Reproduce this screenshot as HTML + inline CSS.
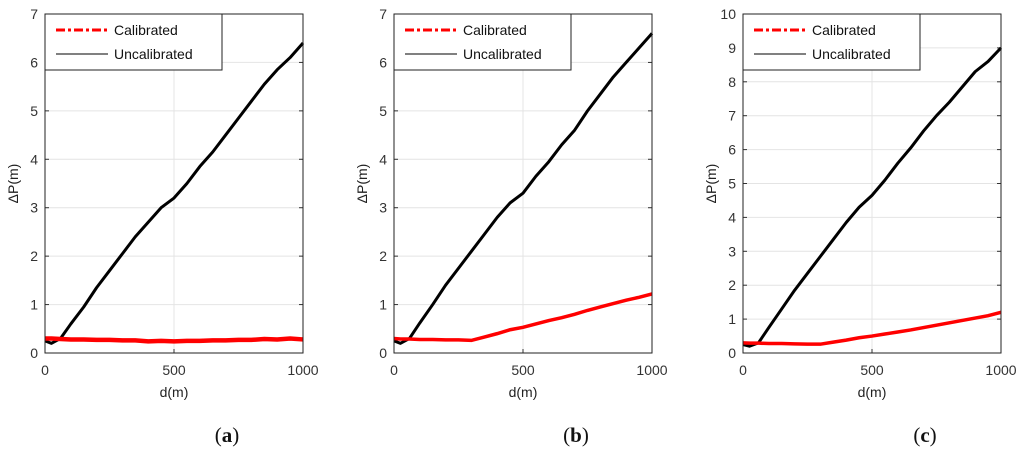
<!DOCTYPE html>
<html><head><meta charset="utf-8"><style>
body{margin:0;background:#fff;}
svg text{font-family:"Liberation Sans",Arial,sans-serif;}
svg text.cap{font-family:"Liberation Serif",serif;}
</style></head><body>
<svg id="fig" width="1024" height="453" xmlns="http://www.w3.org/2000/svg"></svg>
<script>
const xs=[0,25,60,100,150,200,250,300,350,400,450,500,550,600,650,700,750,800,850,900,950,1000];
const unA=[0.25,0.2,0.3,0.6,0.95,1.35,1.7,2.05,2.4,2.7,3.0,3.2,3.5,3.85,4.15,4.5,4.85,5.2,5.55,5.85,6.1,6.4];
const calA=[0.3,0.3,0.29,0.28,0.28,0.27,0.27,0.26,0.26,0.24,0.25,0.24,0.25,0.25,0.26,0.26,0.27,0.27,0.29,0.28,0.3,0.28];
const unB=[0.25,0.2,0.3,0.62,1.0,1.4,1.75,2.1,2.45,2.8,3.1,3.3,3.65,3.95,4.3,4.6,5.0,5.35,5.7,6.0,6.3,6.6];
const calB=[0.3,0.29,0.29,0.28,0.28,0.27,0.27,0.26,0.33,0.4,0.48,0.53,0.6,0.67,0.73,0.8,0.88,0.95,1.02,1.09,1.15,1.22];
const unC=[0.25,0.2,0.3,0.75,1.3,1.85,2.35,2.85,3.35,3.85,4.3,4.65,5.1,5.6,6.05,6.55,7.0,7.4,7.85,8.3,8.6,9.0];
const calC=[0.3,0.29,0.29,0.28,0.28,0.27,0.26,0.26,0.32,0.38,0.45,0.5,0.56,0.62,0.68,0.75,0.82,0.89,0.96,1.03,1.1,1.2];
const yMaxs=[7,7,10];
const captions=["a","b","c"];
const panels=[[unA,calA],[unB,calB],[unC,calC]];
const lefts=[45,394,743];
const NS="http://www.w3.org/2000/svg";
const svg=document.getElementById('fig');
function el(t,a,p){const e=document.createElementNS(NS,t);for(const k in a)e.setAttribute(k,a[k]);(p||svg).appendChild(e);return e;}
const topY=14,bot=353,W=258;
panels.forEach((pd,i)=>{
  const L=lefts[i],ymax=yMaxs[i];
  const g=el('g',{});
  
  
  const X=v=>L+v/1000*W, Y=v=>bot-v/ymax*(bot-topY);
  for(let t=0;t<=ymax;t++){
    el('line',{x1:L,x2:L+W,y1:Y(t),y2:Y(t),stroke:'#e4e4e4','stroke-width':1},g);
    el('line',{x1:L,x2:L+4,y1:Y(t),y2:Y(t),stroke:'#333'},g);
    el('line',{x1:L+W-4,x2:L+W,y1:Y(t),y2:Y(t),stroke:'#333'},g);
    const tl=el('text',{x:L-7,y:Y(t)+5,'text-anchor':'end','font-size':14,fill:'#333'},g);tl.textContent=t;
    
  }
  [0,500,1000].forEach(t=>{
    el('line',{x1:X(t),x2:X(t),y1:topY,y2:bot,stroke:'#e4e4e4'},g);
    el('line',{x1:X(t),x2:X(t),y1:bot,y2:bot-4,stroke:'#333'},g);
    el('line',{x1:X(t),x2:X(t),y1:topY,y2:topY+4,stroke:'#333'},g);
    const tl=el('text',{x:X(t),y:bot+22,'text-anchor':'middle','font-size':14,fill:'#333'},g);tl.textContent=t;
    
  });
  const pts=a=>a.map((v,k)=>X(xs[k])+','+Y(v)).join(' ');
  const un=el('polyline',{points:pts(pd[0]),fill:'none',stroke:'#000','stroke-width':3,'stroke-linejoin':'round'},g);
  
  const ca=el('polyline',{points:pts(pd[1]),fill:'none',stroke:'#f00','stroke-width':i==0?4.5:3.5},g);
  
  el('rect',{x:L,y:topY,width:W,height:bot-topY,fill:'none',stroke:'#222'},g);
  const lg=el('g',{},g);
  
  
  el('rect',{x:L,y:topY,width:177,height:56,fill:'#fff',stroke:'#222'},lg);
  el('line',{x1:L+11,x2:L+63,y1:30,y2:30,stroke:'#f00','stroke-width':3,'stroke-dasharray':'9,3,3,3'},lg);
  el('line',{x1:L+11,x2:L+63,y1:54,y2:54,stroke:'#000','stroke-width':1},lg);
  let t1=el('text',{x:L+69,y:35,'font-size':14,fill:'#111'},lg);t1.textContent='Calibrated';
  let t2=el('text',{x:L+69,y:59,'font-size':14,fill:'#111'},lg);t2.textContent='Uncalibrated';
  const xl=el('text',{x:L+W/2,y:397,'text-anchor':'middle','font-size':14,fill:'#222'},g);xl.textContent='d(m)';
  
  const yl=el('text',{x:0,y:0,'text-anchor':'middle','font-size':14,fill:'#222',transform:`translate(${L-27},${(topY+bot)/2}) rotate(-90)`},g);yl.textContent='ΔP(m)';
  
  const cp=el('text',{x:L+182,y:442,'text-anchor':'middle','font-size':21,fill:'#111','class':'cap'},g);
  cp.innerHTML='(<tspan font-weight="bold">'+captions[i]+'</tspan>)';
  
});
</script>
</body></html>
